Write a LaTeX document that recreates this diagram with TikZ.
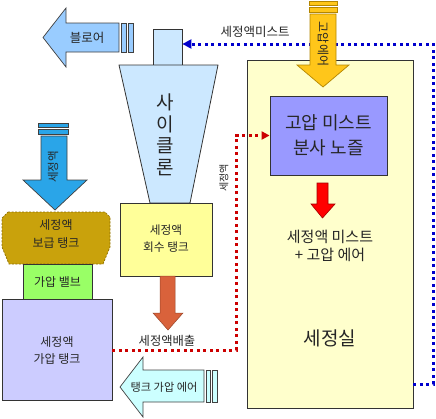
\documentclass[tikz,border=0pt]{standalone}
\usepackage{fontspec}
\setmainfont{Noto Sans CJK KR}
\usetikzlibrary{arrows.meta}
\definecolor{chamberC}{HTML}{FFFFCC}
\definecolor{nozzleC}{HTML}{9999FF}
\definecolor{recovC}{HTML}{FFFF99}
\definecolor{valveC}{HTML}{99FF66}
\definecolor{ptankC}{HTML}{CCCCFF}
\definecolor{cycC}{HTML}{CCE8FF}
\definecolor{blowC}{HTML}{99CCFF}
\definecolor{supArrC}{HTML}{2AA5E8}
\definecolor{supTankC}{HTML}{C9A20C}
\definecolor{supTankD}{HTML}{8C6D00}
\definecolor{yelArrC}{HTML}{FFC61A}
\definecolor{yelArrD}{HTML}{B38600}
\definecolor{brownC}{HTML}{D9623B}
\definecolor{airC}{HTML}{CCFFFF}
\definecolor{dotBlue}{HTML}{0000CC}
\definecolor{dotRed}{HTML}{CC0000}
\newcommand\myfs[2]{\fontsize{#1}{#2}\selectfont}
\begin{document}
\begin{tikzpicture}[x=1pt,y=-1pt,
  box/.style={draw=black!80, line width=0.8pt, inner sep=0pt},
  blk/.style={draw=black!75, line width=0.7pt},
  lbl/.style={align=center, inner sep=0pt, text=black!85},
  dotline/.style={line width=3pt, dash pattern=on 3pt off 3.5pt}]
\useasboundingbox (0,0) rectangle (436,418);

% wash chamber
\node[box, fill=chamberC, minimum width=166pt, minimum height=348pt] (chamber) at (330,234) {};
\node[box, fill=nozzleC, minimum width=117pt, minimum height=79pt] (nozzle) at (328.5,135.5) {};
\node[lbl, font=\myfs{18}{25}] (nozzleT) at (328.5,135.5) {고압 미스트\\분사 노즐};
\node[lbl, font=\myfs{15}{18}] (mistT) at (330,246) {세정액 미스트\\+ 고압 에어};
\node[lbl, font=\myfs{19}{22}] (chamberT) at (330,338) {세정실};

% red arrow in chamber
\draw[draw=dotRed!80!black, line width=0.6pt, fill=red]
  (317,183) -- (328,183) -- (328,204) -- (335,204) -- (322.5,218) -- (311,204) -- (317,204) -- cycle;

% cyclone
\node[box, fill=cycC, minimum width=29pt, minimum height=36pt] (cyctop) at (167.5,47) {};
\draw[box, fill=cycC] (119,65) -- (218,65) -- (190,203) -- (150,203) -- cycle;
\node[lbl, font=\myfs{19}{21.5}] (cyclone) at (165,135) {사\\이\\클\\론};

% recovery tank
\node[box, fill=recovC, minimum width=92pt, minimum height=73pt] (recov) at (166,239.5) {};
\node[lbl, font=\myfs{11.7}{17}] (recovT) at (166,239) {세정액\\회수 탱크};

% brown discharge arrow
\draw[draw=brownC!70!black, line width=0.5pt, fill=brownC]
  (160,276) -- (175,276) -- (175,313) -- (183,313) -- (168,330) -- (153,313) -- (160,313) -- cycle;

% supply tank
\draw[draw=supTankD, dash pattern=on 2pt off 1.5pt, line width=0.7pt, fill=supTankC]
  (8,212) -- (105,212) -- (110,217) -- (110,247) -- (103,264) -- (9,264) -- (2,247) -- (2,218) -- cycle;
\node[lbl, font=\myfs{12}{18}] (supT) at (56,234) {세정액\\보급 탱크};

% valve
\node[box, fill=valveC, minimum width=69pt, minimum height=35pt] (valve) at (57.5,281.5) {};
\node[lbl, font=\myfs{12}{14}] (valveT) at (57.5,281.5) {가압 밸브};

% pressurized tank
\node[box, fill=ptankC, minimum width=110pt, minimum height=101pt] (ptank) at (57,349.5) {};
\node[lbl, font=\myfs{12}{17}] (ptankT) at (57,350.5) {세정액\\가압 탱크};

% supply arrow (blue, down)
\draw[blk, fill=supArrC] (38,123) rectangle (68,127);
\draw[blk, fill=supArrC] (38,129) rectangle (68,134);
\draw[blk, fill=supArrC]
  (41,136) -- (67,136) -- (67,180) -- (87,180) -- (55,210) -- (23,180) -- (41,180) -- cycle;
\node[lbl, rotate=90, font=\myfs{11.5}{13}] (supArrT) at (53,167) {세정액};

% blower arrow (left)
\draw[blk, fill=blowC]
  (119,23) -- (66,23) -- (66,8) -- (43,37.5) -- (66,67) -- (66,52) -- (119,52) -- cycle;
\draw[blk, fill=blowC] (121,23) rectangle (126,52);
\draw[blk, fill=blowC] (128,23) rectangle (133,52);
\node[lbl, font=\myfs{12.5}{14}] (blowT) at (87,37.5) {블로어};

% tank air arrow (left)
\draw[blk, fill=airC]
  (204,370) -- (143,370) -- (143,357) -- (120,387) -- (143,417) -- (143,402) -- (204,402) -- cycle;
\draw[blk, fill=airC] (206,370) rectangle (210,402);
\draw[blk, fill=airC] (212,370) rectangle (217,402);
\node[lbl, font=\myfs{11.2}{13}] (airT) at (164,387) {탱크 가압 에어};

% dotted connectors
\coordinate (rA) at (236,350);
\coordinate (rB) at (236,135.5);
\draw[dotline, draw=dotRed, -{Triangle[length=8pt,width=8pt]}]
  (ptank.east |- rA) -- (rA) -- (rB) -- (nozzle.west);
\node[lbl, font=\myfs{12.3}{14}] (dischT) at (167,341) {세정액배출};
\node[lbl, rotate=90, font=\myfs{10}{12}] (redT) at (224,178) {세정액};

\coordinate (bA) at (433,384);
\coordinate (bB) at (433,44);
\draw[dotline, draw=dotBlue, -{Triangle[length=9pt,width=9pt]}]
  (chamber.east |- bA) -- (bA) -- (bB) -- (cyctop.east |- bB);
\node[lbl, font=\myfs{12.5}{14}] (mistLbl) at (255,32) {세정액미스트};

% high pressure air arrow (yellow, down)
\draw[draw=yelArrD, line width=0.7pt, fill=yelArrC] (309,1) rectangle (337,5);
\draw[draw=yelArrD, line width=0.7pt, fill=yelArrC] (309,7) rectangle (337,12);
\draw[draw=yelArrD, line width=0.7pt, fill=yelArrC]
  (310,14) -- (336,14) -- (336,65) -- (349,65) -- (323,87) -- (297,65) -- (310,65) -- cycle;
\node[lbl, rotate=-90, font=\myfs{12}{14}] (yelT) at (323,44) {고압에어};
\end{tikzpicture}
\end{document}
